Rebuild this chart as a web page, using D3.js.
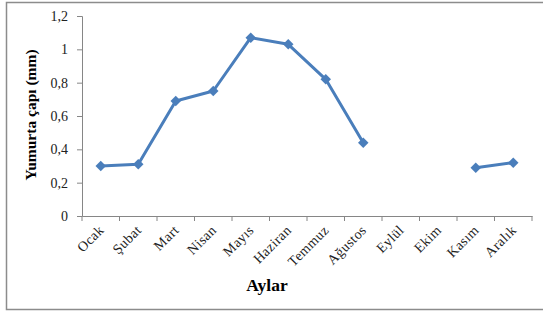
<!DOCTYPE html>
<html>
<head>
<meta charset="utf-8">
<script src="https://cdn.jsdelivr.net/npm/d3@7"></script>
<style>
  body { margin: 0; background: #fff; }
  svg text { font-family: "Liberation Serif", "Times New Roman", serif; }
</style>
</head>
<body>
<div id="chart"></div>
<script>
// months on the x axis
const months = ["Ocak", "Şubat", "Mart", "Nisan", "Mayıs", "Haziran", "Temmuz", "Ağustos", "Eylül", "Ekim", "Kasım", "Aralık"];
// egg diameter (mm), null where no sample
const eggSize = [0.30, 0.31, 0.69, 0.75, 1.07, 1.03, 0.82, 0.44, null, null, 0.29, 0.32];
const yTicks = [0, 0.2, 0.4, 0.6, 0.8, 1, 1.2];

const width = 543, height = 313;
const margin = { left: 82, right: 11, top: 16, bottom: 97 };

const svg = d3.select("#chart").append("svg")
    .attr("width", width)
    .attr("height", height);

// outer chart frame (right edge runs off the picture)
svg.append("path")
    .attr("d", "M545,2.5 H6.5 V309.5 H545")
    .attr("fill", "none")
    .attr("stroke", "#8c8c8c")
    .attr("stroke-width", 1.5);

const x = d3.scaleBand()
    .domain(months)
    .range([margin.left, width - margin.right]);

const y = d3.scaleLinear()
    .domain([0, 1.2])
    .range([height - margin.bottom, margin.top]);

const fmt = d => String(+d.toFixed(1)).replace(".", ",");

// y axis
const yAxis = svg.append("g")
    .attr("transform", `translate(${margin.left},0)`)
    .call(d3.axisLeft(y).tickValues(yTicks).tickFormat(fmt).tickSize(5).tickPadding(9));
yAxis.select(".domain").attr("stroke", "#868686");
yAxis.selectAll(".tick line").attr("stroke", "#868686");
yAxis.selectAll("text").attr("font-size", 14).attr("fill", "#222");

// x axis, ticks at band edges
const xAxis = svg.append("g")
    .attr("transform", `translate(0,${height - margin.bottom})`)
    .call(d3.axisBottom(x).tickSize(0).tickFormat(""));
xAxis.select(".domain").attr("stroke", "#868686");
xAxis.selectAll(".tick").remove();

const edges = months.map(m => x(m)).concat([x.range()[1]]);
svg.append("g").selectAll("line")
    .data(edges)
    .enter().append("line")
    .attr("x1", d => d).attr("x2", d => d)
    .attr("y1", height - margin.bottom)
    .attr("y2", height - margin.bottom + 5)
    .attr("stroke", "#868686");

// rotated month labels
svg.append("g").selectAll("text")
    .data(months)
    .enter().append("text")
    .attr("transform", d => `translate(${x(d) + x.bandwidth() / 2 + 4},${height - margin.bottom + 15}) rotate(-45)`)
    .attr("text-anchor", "end")
    .attr("font-size", 14)
    .attr("letter-spacing", 0.4)
    .attr("fill", "#222")
    .text(d => d);

// axis titles
svg.append("text")
    .attr("x", 267)
    .attr("y", 291)
    .attr("text-anchor", "middle")
    .attr("font-size", 17.5)
    .attr("font-weight", "bold")
    .text("Aylar");

svg.append("text")
    .attr("transform", "translate(36,115) rotate(-90)")
    .attr("text-anchor", "middle")
    .attr("font-size", 15.5)
    .attr("font-weight", "bold")
    .text("Yumurta çapı (mm)");

// the series line with gaps for missing months
const pts = months.map((m, i) => ({ m, v: eggSize[i] }));
const line = d3.line()
    .defined(d => d.v !== null)
    .x(d => x(d.m) + x.bandwidth() / 2)
    .y(d => y(d.v));

svg.append("path")
    .datum(pts)
    .attr("fill", "none")
    .attr("stroke", "#4a7ebb")
    .attr("stroke-width", 3)
    .attr("stroke-linejoin", "round")
    .attr("d", line);

svg.append("g").selectAll("path")
    .data(pts.filter(d => d.v !== null))
    .enter().append("path")
    .attr("transform", d => `translate(${x(d.m) + x.bandwidth() / 2},${y(d.v)})`)
    .attr("d", d3.symbol().type(d3.symbolDiamond2).size(70))
    .attr("fill", "#4a7ebb");
</script>
</body>
</html>
